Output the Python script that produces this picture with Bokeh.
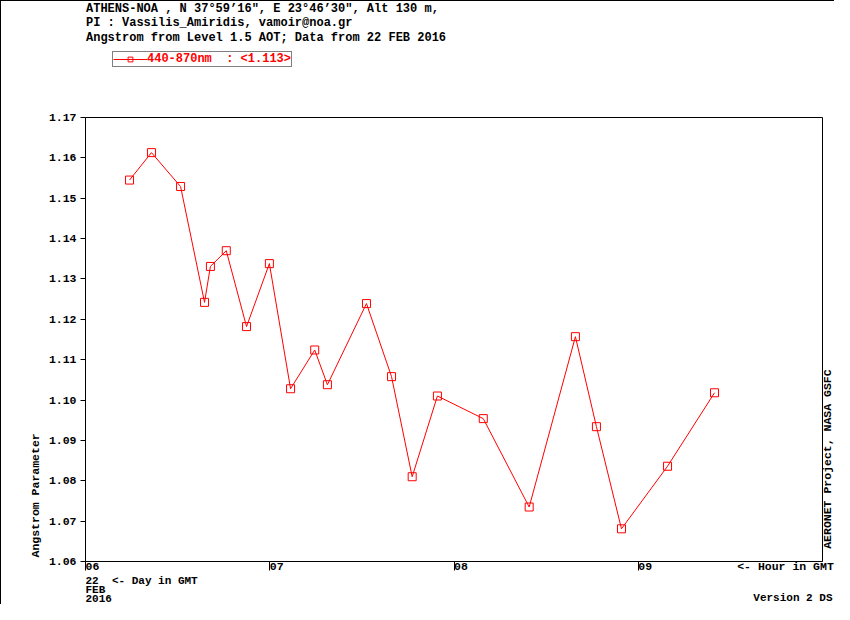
from bokeh.plotting import figure
from bokeh.layouts import column
from bokeh.models import (Range1d, LinearAxis, FixedTicker, Label, Legend, LegendItem,
                          ColumnDataSource)
from bokeh.embed import file_html
from bokeh.resources import INLINE
import math

# ---------------- data (GMT hour on 22 FEB 2016, Angstrom 440-870nm) ----------------
hours = [6.239, 6.358, 6.516, 6.646, 6.678, 6.764, 6.874, 6.998, 7.113, 7.244, 7.313,
         7.525, 7.661, 7.773, 7.910, 8.159, 8.408, 8.659, 8.773, 8.909, 9.159, 9.414]
angstrom = [1.1545, 1.1613, 1.1529, 1.1242, 1.1331, 1.1370, 1.1182, 1.1338, 1.1028, 1.1124, 1.1038,
            1.1239, 1.1058, 1.0810, 1.1010, 1.0954, 1.0735, 1.1157, 1.0934, 1.0681, 1.0836, 1.1018]
x_ticks = [6, 7, 8, 9]
x_tick_labels = ["06", "07", "08", "09"]
y_ticks = [1.06, 1.07, 1.08, 1.09, 1.10, 1.11, 1.12, 1.13, 1.14, 1.15, 1.16, 1.17]
header_lines = [
    "ATHENS-NOA , N 37°59’16\", E 23°46’30\", Alt 130 m,",
    "PI : Vassilis_Amiridis, vamoir@noa.gr",
    "Angstrom from Level 1.5 AOT; Data from 22 FEB 2016",
]
legend_label = "440-870nm  : <1.113>"
hour_note = "<- Hour in GMT"
day_note = "22\u00a0 <- Day in GMT"
month_note = "FEB"
year_note = "2016"
version_note = "Version 2 DS"
y_title = "Angstrom Parameter"
credit = "AERONET Project, NASA GSFC"

# ---------------- layout constants ----------------
FONT = "Liberation Mono"
W = 833
TOP_H, MAIN_H, BOT_H = 109, 465, 29
X0, X1, Y0, Y1 = 6, 10, 1.06, 1.17
OFF = 1                                      # page border width
FL, FR, FT, FB = 84, 821, 116, 560          # frame edges inside the bordered box
PXH = (FR - FL) / (X1 - X0)
PXU = (FB - FT) / (Y1 - Y0)
NB = "\u00a0"
RED = "#ff0000"
BORDERS = dict(min_border_left=FL, min_border_right=W - FR)


def hx(px):
    return round(X0 + (px - OFF - FL) / PXH, 4)


def vy(py):
    return round(Y0 + (FB - (py - OFF)) / PXU, 5)


def strip(height):
    f = figure(width=W, height=height, output_backend="svg", toolbar_location=None,
               x_range=Range1d(X0, X1), y_range=Range1d(0, height), title=None,
               x_axis_type=None, y_axis_type=None, min_border_top=0, min_border_bottom=0,
               **BORDERS)
    f.outline_line_color = None
    f.background_fill_color = "white"
    f.border_fill_color = "white"
    return f


def text_props(size="11.5px", color="black"):
    return dict(text_font=FONT, text_font_style="bold", text_font_size=size,
                text_color=color, text_baseline="middle")


# ---------------- top strip: station header and legend ----------------
top = strip(TOP_H)
for i, t in enumerate(header_lines):
    top.add_layout(Label(x=0.5, y=TOP_H - (8.7 - OFF + 14.2 * i), x_units="screen",
                         y_units="screen", text=t, **text_props("12px")))
# legend sample drawn from the series itself (renderers hidden in this strip)
lg_line = top.line(hours, angstrom, line_color=RED, line_width=1, visible=False)
lg_mark = top.scatter(hours, angstrom, marker="square", size=8, fill_color=None,
                      line_color=RED, line_width=1, visible=False)
legend = Legend(items=[LegendItem(label=legend_label, renderers=[lg_line, lg_mark])],
                location=(112 - OFF - FL, TOP_H - (66.5 - OFF)), border_line_color="black",
                border_line_width=1, background_fill_color="white", background_fill_alpha=1,
                inactive_fill_alpha=0, padding=0, margin=0, spacing=0, glyph_width=34,
                glyph_height=12, label_height=12, label_standoff=0, label_text_font=FONT,
                label_text_font_style="bold", label_text_font_size="12px",
                label_text_color=RED)
top.add_layout(legend)

# ---------------- main chart ----------------
p = figure(width=W, height=MAIN_H, output_backend="svg", toolbar_location=None, title=None,
           x_range=Range1d(X0, X1), y_range=Range1d(Y0, Y1),
           x_axis_type=None, y_axis_type=None,
           min_border_top=FT - TOP_H, min_border_bottom=TOP_H + MAIN_H - FB, **BORDERS)
p.outline_line_color = "black"
p.outline_line_alpha = 1
p.outline_line_width = 1
p.background_fill_color = "white"
p.border_fill_color = "white"


def style_axis(ax, tick_out, standoff):
    ax.major_tick_in = 0
    ax.major_tick_out = tick_out
    ax.minor_tick_in = 0
    ax.minor_tick_out = 0
    ax.major_label_standoff = standoff
    ax.major_label_text_font = FONT
    ax.major_label_text_font_style = "bold"
    ax.major_label_text_font_size = "11.5px"
    ax.major_label_text_color = "black"


yax = LinearAxis(ticker=FixedTicker(ticks=y_ticks, minor_ticks=[]))
style_axis(yax, 5, 4)
yax.axis_line_color = "black"
yax.major_label_overrides = {t: f"{t:.2f}" for t in y_ticks}
p.add_layout(yax, "left")

xax = LinearAxis(ticker=FixedTicker(ticks=x_ticks, minor_ticks=[]))
style_axis(xax, 9, -11)
xax.axis_line_color = "black"
# left padding so that each centred label starts at its tick, as in the original
xax.major_label_overrides = {t: NB * 2 + l for t, l in zip(x_ticks, x_tick_labels)}
p.add_layout(xax, "below")

# "<- Hour in GMT" sits on the tick-label row, written by a bare axis of its own
hour_x = hx(785)
hax = LinearAxis(ticker=FixedTicker(ticks=[hour_x], minor_ticks=[]))
style_axis(hax, 0, -16)
hax.axis_line_color = None
hax.major_tick_line_color = None
hax.major_label_overrides = {hour_x: hour_note}
p.add_layout(hax, "below")

# vertical texts in the side margin, positioned through the chart scales
for t, px, py in [(y_title, 35, 557), (credit, 827, 548.3)]:
    p.add_layout(Label(x=hx(px), y=vy(py), text=t, angle=math.pi / 2, text_align="left",
                       **text_props()), "left")

src = ColumnDataSource(dict(x=hours, y=angstrom))
p.line("x", "y", source=src, line_color=RED, line_width=1)
p.scatter("x", "y", source=src, marker="square", size=8, fill_color=None,
          line_color=RED, line_width=1)

# ---------------- bottom strip: date and version ----------------
bot = strip(BOT_H)
BOT_TOP = OFF + TOP_H + MAIN_H
for t, py in [(day_note, 580), (month_note, 589), (year_note, 597.5)]:
    bot.add_layout(Label(x=0, y=BOT_H - (py - BOT_TOP), x_units="screen", y_units="screen",
                         text=t, **text_props("11px")))
# the version tag reaches past the plot frame, so it lives in the strip's side margin
bot.add_layout(Label(x=hx(832), y=BOT_H - (597.5 - BOT_TOP), text=version_note,
                     text_align="right", **text_props("11px")), "left")

layout = column(top, p, bot,
                styles={"border-top": "1px solid black", "border-left": "1px solid black"})
open("out.html", "w").write(file_html(layout, INLINE))
